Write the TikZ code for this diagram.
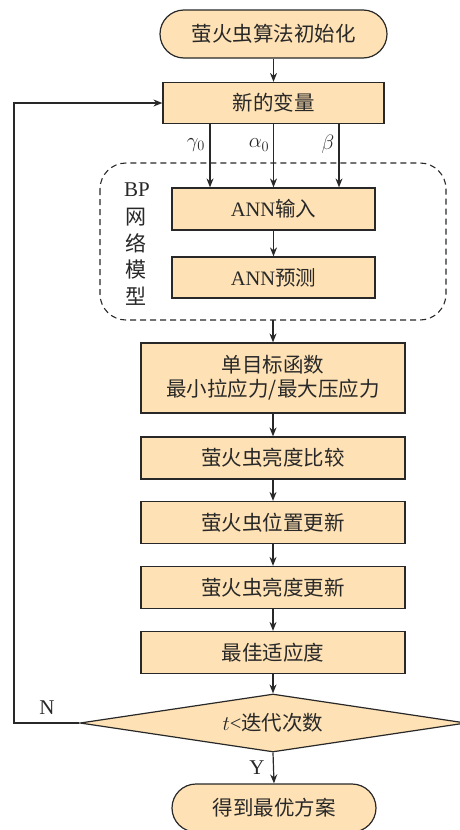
\documentclass[tikz,border=0pt]{standalone}
\usepackage{fontspec}
\setmainfont{Liberation Serif}
\newfontfamily\cjk{Noto Sans CJK SC}
\usetikzlibrary{shapes.geometric,arrows.meta}
\definecolor{boxfill}{RGB}{254,225,180}
\definecolor{linec}{RGB}{40,40,40}
\begin{document}
\begin{tikzpicture}[x=1pt,y=1pt,
  every node/.style={font=\fontsize{20.5}{24}\selectfont, text=linec},
  procbox/.style={draw=linec, line width=1.2pt, fill=boxfill, rectangle, inner sep=0pt, align=center},
  termbox/.style={draw=linec, line width=1.2pt, fill=boxfill, rectangle, rounded corners=24pt, inner sep=0pt},
  decbox/.style={draw=linec, line width=1.2pt, fill=boxfill, diamond, aspect=6.6, inner sep=0pt},
  arr/.style={draw=linec, line width=1.2pt, -{Stealth[length=9pt,width=7pt]}},
  lbl/.style={font=\fontsize{21}{24}\selectfont, inner sep=0pt}
]
\useasboundingbox (0,0) rectangle (459,-830);
\node[termbox, minimum width=227pt, minimum height=48pt] (start) at (273.5,-34) {\cjk 萤火虫算法初始化};
\node[procbox, minimum width=221pt, minimum height=41pt] (var) at (273.5,-103) {\cjk 新的变量};
\draw[dash pattern=on 6pt off 4pt, line width=1.1pt, draw=linec, rounded corners=26pt] (100,-163) rectangle (446,-320);
\coordinate (dashbot) at (273,-320);
\node[procbox, minimum width=203pt, minimum height=42pt] (ann1) at (273.5,-209) {ANN{\cjk 输入}};
\node[procbox, minimum width=203pt, minimum height=41pt] (ann2) at (273.5,-277.5) {ANN{\cjk 预测}};
\node[lbl] (bp) at (137,-190) {BP};
\node[lbl] (w1) at (136,-217) {\cjk 网};
\node[lbl] (w2) at (136,-243) {\cjk 络};
\node[lbl] (w3) at (136,-270) {\cjk 模};
\node[lbl] (w4) at (136,-296) {\cjk 型};
\node[procbox, minimum width=264pt, minimum height=70pt] (obj) at (273,-378) {\cjk 单目标函数\\[0pt]\cjk 最小拉应力/最大压应力};
\node[procbox, minimum width=264pt, minimum height=42pt] (cmp) at (273,-458) {\cjk 萤火虫亮度比较};
\node[procbox, minimum width=264pt, minimum height=42pt] (pos) at (273,-522.5) {\cjk 萤火虫位置更新};
\node[procbox, minimum width=264pt, minimum height=42pt] (bri) at (273,-587.5) {\cjk 萤火虫亮度更新};
\node[procbox, minimum width=264pt, minimum height=42pt] (best) at (273,-652.5) {\cjk 最佳适应度};
\node[decbox, minimum width=386pt, minimum height=58pt] (dec) at (273,-723) {$t$<{\cjk 迭代次数}};
\node[termbox, minimum width=204pt, minimum height=48pt] (end) at (274,-808) {\cjk 得到最优方案};
% labels
\node[lbl] (g) at (196,-145) {$\gamma_0$};
\node[lbl] (a) at (259,-145) {$\alpha_0$};
\node[lbl] (b) at (328,-144) {$\beta$};
\node[lbl] (nlab) at (47,-708) {N};
\node[lbl] (ylab) at (257,-768) {Y};
% connectors
\draw[arr] (start.south) -- (var.north);
\draw[arr] (var.south -| 210,0) -- (ann1.north -| 210,0);
\draw[arr] (var.south) -- (ann1.north -| var.south);
\draw[arr] (var.south -| 339,0) -- (ann1.north -| 339,0);
\draw[arr] (ann1.south) -- (ann2.north);
\draw[arr] (dashbot) -- (obj.north);
\draw[arr] (obj.south) -- (cmp.north);
\draw[arr] (cmp.south) -- (pos.north);
\draw[arr] (pos.south) -- (bri.north);
\draw[arr] (bri.south) -- (best.north);
\draw[arr] (best.south) -- (dec.north);
\draw[arr] (dec.south) -- (end.north);
\draw[arr] (dec.west) -- (14,-723) -- (14,-103) -- (var.west);
\end{tikzpicture}
\end{document}
